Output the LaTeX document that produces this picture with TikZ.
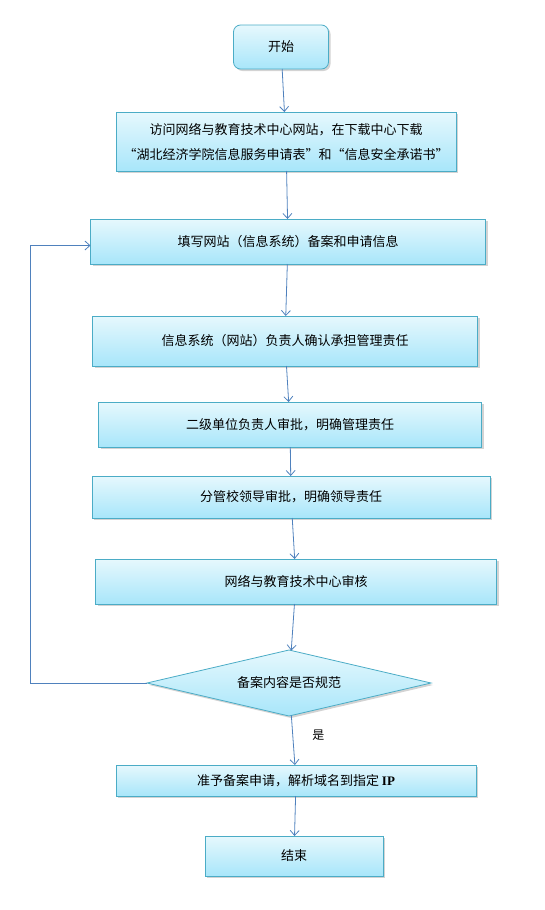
\documentclass[tikz,border=0pt]{standalone}
\usepackage{fontspec}
\setmainfont{Noto Sans CJK SC}
\newfontfamily\ipfont{Liberation Serif}
\usetikzlibrary{arrows.meta,positioning,shapes.geometric,shadows}
\definecolor{boxtop}{HTML}{E6F8FD}
\definecolor{boxbot}{HTML}{A8E6FA}
\definecolor{edge}{HTML}{4BACC6}
\definecolor{flow}{HTML}{4F81BD}
\definecolor{ink}{HTML}{000000}
\tikzset{
  x=1pt,y=1pt,
  every node/.style={font=\fontsize{13}{25}\selectfont,text=ink},
  box/.style={draw=edge,line width=0.8pt,top color=boxtop,bottom color=boxbot,align=center,inner sep=0pt,outer sep=0pt,
    drop shadow={shadow xshift=2pt,shadow yshift=-2pt,opacity=0.35}},
  endbox/.style={box,rounded corners=7pt},
  decide/.style={box,diamond,aspect=4.3},
  arrow/.style={-{Straight Barb[length=5pt,width=9pt]},draw=flow,line width=0.8pt},
  yeslabel/.style={font=\fontsize{12}{14}\selectfont},
}

\begin{document}
\begin{tikzpicture}
\useasboundingbox (0,0) rectangle (544,-910);
\node[endbox,minimum width=95pt,minimum height=44pt] (start) at (281,-47) {开始};
\node[box,minimum width=340pt,minimum height=59pt,below=43pt of start,xshift=5pt] (visit) {访问网络与教育技术中心网站，在下载中心下载\\“湖北经济学院信息服务申请表”和“信息安全承诺书”};
\node[box,minimum width=395pt,minimum height=45pt,below=48pt of visit,xshift=2pt] (fillin) {填写网站（信息系统）备案和申请信息};
\node[box,minimum width=385pt,minimum height=50pt,below=52pt of fillin,xshift=-3pt] (confirm) {信息系统（网站）负责人确认承担管理责任};
\node[box,minimum width=383pt,minimum height=45pt,below=36pt of confirm,xshift=5pt] (unit) {二级单位负责人审批，明确管理责任};
\node[box,minimum width=398pt,minimum height=42pt,below=29pt of unit,xshift=1pt] (leader) {分管校领导审批，明确领导责任};
\node[box,minimum width=401pt,minimum height=45pt,below=41pt of leader,xshift=5pt] (center) {网络与教育技术中心审核};
\node[decide,minimum width=284pt,minimum height=66pt,below=46pt of center,xshift=-7pt] (check) {备案内容是否规范};
\node[box,minimum width=360pt,minimum height=31pt,below=49pt of check,xshift=7pt] (grant) {准予备案申请，解析域名到指定 {\ipfont\bfseries IP}};
\node[box,minimum width=178pt,minimum height=40pt,below=40pt of grant,xshift=-2pt] (stop) {结束};
\draw[arrow] (start) -- (visit);
\draw[arrow] (visit) -- (fillin);
\draw[arrow] (fillin) -- (confirm);
\draw[arrow] (confirm) -- (unit);
\draw[arrow] (unit) -- (leader);
\draw[arrow] (leader) -- (center);
\draw[arrow] (center) -- (check);
\draw[arrow] (check) -- node[yeslabel,right=16pt,pos=0.4] {是} (grant);
\draw[arrow] (grant) -- (stop);
\draw[arrow] (check.west) -- ++(-117,0) |- ([yshift=-4pt]fillin.west);
\end{tikzpicture}
\end{document}
